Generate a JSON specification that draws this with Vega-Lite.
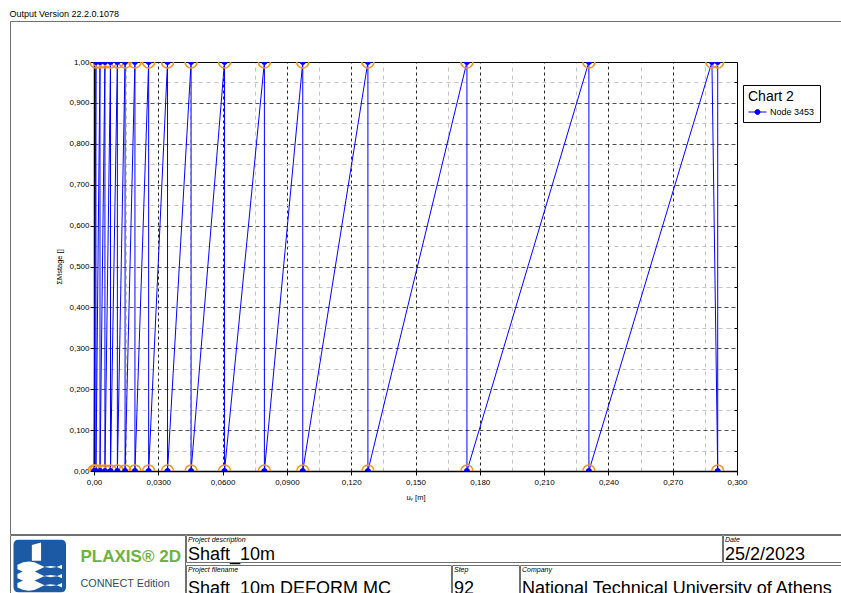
{
  "$schema": "https://vega.github.io/schema/vega-lite/v6.json",
  "padding": {"left": 9, "top": 9, "right": 0, "bottom": 0},
  "background": "white",
  "title": {"text": "Output Version 22.2.0.1078", "anchor": "start", "fontSize": 9, "font": "Liberation Sans", "fontWeight": "normal", "color": "#000", "offset": 2},
  "config": {"view": {"stroke": null}, "font": "Liberation Sans"},
  "spacing": -6,
  "vconcat": [
    {
      "width": 832,
      "height": 513,
      "view": {"stroke": "#707070", "strokeWidth": 1},
      "data": {"values": [
        {"i":0,"u":0,"m":0},{"i":1,"u":0.0009,"m":1},{"i":2,"u":0.0009,"m":0},{"i":3,"u":0.0028,"m":1},{"i":4,"u":0.0028,"m":0},{"i":5,"u":0.0051,"m":1},{"i":6,"u":0.0051,"m":0},{"i":7,"u":0.0077,"m":1},{"i":8,"u":0.0077,"m":0},{"i":9,"u":0.0109,"m":1},{"i":10,"u":0.0109,"m":0},{"i":11,"u":0.0145,"m":1},{"i":12,"u":0.0145,"m":0},{"i":13,"u":0.0191,"m":1},{"i":14,"u":0.0191,"m":0},{"i":15,"u":0.0255,"m":1},{"i":16,"u":0.0255,"m":0},{"i":17,"u":0.0343,"m":1},{"i":18,"u":0.0343,"m":0},{"i":19,"u":0.0453,"m":1},{"i":20,"u":0.0453,"m":0},{"i":21,"u":0.0609,"m":1},{"i":22,"u":0.0609,"m":0},{"i":23,"u":0.0795,"m":1},{"i":24,"u":0.0795,"m":0},{"i":25,"u":0.0974,"m":1},{"i":26,"u":0.0974,"m":0},{"i":27,"u":0.1278,"m":1},{"i":28,"u":0.1278,"m":0},{"i":29,"u":0.174,"m":1},{"i":30,"u":0.174,"m":0},{"i":31,"u":0.2309,"m":1},{"i":32,"u":0.2309,"m":0},{"i":33,"u":0.2883,"m":1},{"i":34,"u":0.291,"m":0},{"i":35,"u":0.291,"m":1}
      ]},
      "resolve": {"axis": {"x": "independent", "y": "independent"}},
      "layer": [
        {
          "mark": {"type": "line", "strokeWidth": 1},
          "encoding": {
            "x": {"field": "u", "type": "quantitative", "scale": {"domain": [0, 0.3], "range": [84, 727], "nice": false, "zero": false},
              "axis": {"orient": "bottom", "offset": -63, "values": [0, 0.03, 0.06, 0.09, 0.12, 0.15, 0.18, 0.21, 0.24, 0.27, 0.3],
                "grid": false, "domain": true, "domainColor": "#000", "domainWidth": 1.5,
                "ticks": true, "tickSize": 4, "tickColor": "#000",
                "labelExpr": "datum.value == 0 ? '0,00' : replace(format(datum.value, datum.value < 0.1 ? '.4f' : '.3f'), '.', ',')",
                "labelFontSize": 8, "labelFont": "Liberation Sans", "labelColor": "#000", "labelPadding": 3, "labelFlush": false, "labelOverlap": false,
                "title": "uᵧ [m]", "titleFontSize": 7.5, "titleFont": "Liberation Sans", "titleFontWeight": "normal", "titleColor": "#000", "titlePadding": 7}},
            "y": {"field": "m", "type": "quantitative", "scale": {"domain": [0, 1], "range": [450, 41], "nice": false, "zero": false},
              "axis": {"orient": "left", "offset": -84, "values": [0, 0.1, 0.2, 0.3, 0.4, 0.5, 0.6, 0.7, 0.8, 0.9, 1],
                "grid": true, "gridColor": "#333", "gridDash": [4, 3], "gridWidth": 1, "gridOpacity": 0.85,
                "domain": true, "domainColor": "#000", "domainWidth": 1.5,
                "ticks": true, "tickSize": 4, "tickColor": "#000",
                "labelExpr": "datum.value == 0 ? '0,00' : datum.value == 1 ? '1,00' : replace(format(datum.value, '.3f'), '.', ',')",
                "labelFontSize": 8, "labelFont": "Liberation Sans", "labelColor": "#000", "labelPadding": 1, "labelFlush": false, "labelOverlap": false,
                "title": "ΣMstage []", "titleFontSize": 7.5, "titleFont": "Liberation Sans", "titleFontWeight": "normal", "titleColor": "#000", "titlePadding": 5}},
            "order": {"field": "i"},
            "color": {"datum": "Node 3453", "type": "nominal", "scale": {"range": ["#0000ff"]},
              "legend": {"orient": "none", "legendX": 733, "legendY": 64, "title": "Chart 2",
                "titleFontSize": 14, "titleFont": "Liberation Sans", "titleFontWeight": "normal", "titleColor": "#000", "titlePadding": 3,
                "labelFontSize": 9, "labelFont": "Liberation Sans", "labelColor": "#000", "labelOffset": 12,
                "strokeColor": "#000", "fillColor": "#fff", "padding": 5,
                "symbolType": "M-1,0L3,0M0.45,0A0.55,0.55 0 1,1 1.55,0A0.55,0.55 0 1,1 0.45,0Z",
                "symbolSize": 81, "symbolStrokeWidth": 1, "symbolFillColor": "#0000ff", "symbolStrokeColor": "#0000ff"}}
          }
        },
        {
          "mark": {"type": "point", "filled": false, "stroke": "#f7941d", "strokeWidth": 1.6, "size": 144, "opacity": 1},
          "encoding": {
            "x": {"field": "u", "type": "quantitative",
              "axis": {"orient": "top", "offset": -41, "values": [0, 0.03, 0.06, 0.09, 0.12, 0.15, 0.18, 0.21, 0.24, 0.27, 0.3],
                "grid": true, "gridColor": "#000", "gridDash": [3, 3], "gridWidth": 1, "gridOpacity": 0.85,
                "domain": true, "domainColor": "#000", "domainWidth": 1, "ticks": false, "labels": false, "title": null}},
            "y": {"field": "m", "type": "quantitative",
              "axis": {"orient": "right", "offset": -105, "values": [0.05, 0.15, 0.25, 0.35, 0.45, 0.55, 0.65, 0.75, 0.85, 0.95],
                "grid": false, "domain": true, "domainColor": "#000", "domainWidth": 1,
                "ticks": true, "tickSize": -3, "tickColor": "#000", "labels": false, "title": null}},
            "shape": {"field": "m", "type": "nominal", "scale": {"domain": [0, 1], "range": ["M-1,0A1,1 0 0,1 1,0", "M-1,0A1,1 0 0,0 1,0"]}, "legend": null}
          }
        },
        {
          "mark": {"type": "point", "filled": true, "color": "#0000ff", "size": 36, "opacity": 1},
          "encoding": {
            "x": {"field": "u", "type": "quantitative",
              "axis": {"orient": "top", "offset": -41, "values": [0.015, 0.045, 0.075, 0.105, 0.135, 0.165, 0.195, 0.225, 0.255, 0.285],
                "grid": true, "gridColor": "#c4c4c4", "gridDash": [4, 4], "gridWidth": 1,
                "domain": false, "ticks": false, "labels": false, "title": null}},
            "y": {"field": "m", "type": "quantitative",
              "axis": {"orient": "left", "offset": -84, "values": [0.05, 0.15, 0.25, 0.35, 0.45, 0.55, 0.65, 0.75, 0.85, 0.95],
                "grid": true, "gridColor": "#c4c4c4", "gridDash": [4, 4], "gridWidth": 1,
                "domain": false, "ticks": false, "labels": false, "title": null}},
            "shape": {"field": "m", "type": "nominal", "scale": {"domain": [0, 1], "range": ["M-1,0A1,1 0 0,1 1,0Z", "M-1,0A1,1 0 0,0 1,0Z"]}, "legend": null}
          }
        }
      ]
    },
    {
      "spacing": -3,
      "hconcat": [
        {
          "width": 175,
          "height": 66,
          "view": {"stroke": "#707070", "strokeWidth": 1},
          "data": {"values": [{"brand": "PLAXIS® 2D", "edition": "CONNECT Edition"}]},
          "resolve": {"scale": {"x": "independent", "y": "independent"}},
          "layer": [
            {
              "mark": {"type": "point", "shape": "M-1,-0.8Q-1,-1 -0.8,-1L0.8,-1Q1,-1 1,-0.8L1,0.8Q1,1 0.8,1L-0.8,1Q-1,1 -1,0.8Z", "filled": true, "color": "#1d5aa6", "size": 2756, "opacity": 1},
              "encoding": {
                "x": {"datum": "p", "type": "nominal", "scale": {"type": "point", "domain": ["p"], "align": 0.17}, "axis": null},
                "y": {"datum": "p", "type": "nominal", "scale": {"type": "point", "domain": ["p"], "align": 0.47}, "axis": null}
              }
            },
            {
              "mark": {"type": "point", "shape": "M-0.3,-0.8L0.05,-0.9L0.05,-0.2L-0.3,-0.2ZM-0.85,-0.05Q-0.4,-0.3 0,-0.05T0.85,-0.05L0.85,0.12Q0.4,-0.13 0,0.12T-0.85,0.12ZM-0.85,0.3Q-0.4,0.05 0,0.3T0.85,0.3L0.85,0.47Q0.4,0.22 0,0.47T-0.85,0.47ZM-0.85,0.65Q-0.4,0.4 0,0.65T0.85,0.65L0.85,0.82Q0.4,0.57 0,0.82T-0.85,0.82Z", "filled": true, "color": "#ffffff", "size": 2756, "opacity": 1},
              "encoding": {
                "x": {"datum": "p", "type": "nominal", "scale": {"type": "point", "domain": ["p"], "align": 0.17}, "axis": null},
                "y": {"datum": "p", "type": "nominal", "scale": {"type": "point", "domain": ["p"], "align": 0.47}, "axis": null}
              }
            },
            {
              "mark": {"type": "text", "align": "left", "baseline": "alphabetic", "fontSize": 17, "fontWeight": "bold", "font": "Liberation Sans", "color": "#6cb33e"},
              "encoding": {
                "text": {"field": "brand"},
                "x": {"datum": "p", "type": "nominal", "scale": {"type": "point", "domain": ["p"], "align": 0.403}, "axis": null},
                "y": {"datum": "p", "type": "nominal", "scale": {"type": "point", "domain": ["p"], "align": 0.41}, "axis": null}
              }
            },
            {
              "mark": {"type": "text", "align": "left", "baseline": "alphabetic", "fontSize": 10.8, "font": "Liberation Sans", "color": "#1f4e79"},
              "encoding": {
                "text": {"field": "edition"},
                "x": {"datum": "p", "type": "nominal", "scale": {"type": "point", "domain": ["p"], "align": 0.403}, "axis": null},
                "y": {"datum": "p", "type": "nominal", "scale": {"type": "point", "domain": ["p"], "align": 0.79}, "axis": null}
              }
            }
          ]
        },
        {
          "spacing": -6,
          "vconcat": [
            {
              "spacing": -3,
              "hconcat": [
                {
                  "width": 536, "height": 27, "view": {"stroke": "#707070", "strokeWidth": 1},
                  "data": {"values": [{"label": "Project description", "value": "Shaft_10m"}]},
                  "layer": [
                    {"mark": {"type": "text", "align": "left", "baseline": "top", "fontSize": 7, "fontStyle": "italic", "dx": 2, "dy": 1, "color": "#000"},
                     "encoding": {"text": {"field": "label"},
                       "x": {"datum": "start", "type": "nominal", "scale": {"type": "point", "domain": ["start"], "align": 0}, "axis": null},
                       "y": {"datum": "top", "type": "nominal", "scale": {"type": "point", "domain": ["top", "bottom"], "padding": 0}, "axis": null}}},
                    {"mark": {"type": "text", "align": "left", "baseline": "alphabetic", "fontSize": 18, "dx": 2, "dy": -2, "color": "#000"},
                     "encoding": {"text": {"field": "value"},
                       "x": {"datum": "start", "type": "nominal", "scale": {"type": "point", "domain": ["start"], "align": 0}, "axis": null},
                       "y": {"datum": "bottom", "type": "nominal", "scale": {"type": "point", "domain": ["top", "bottom"], "padding": 0}, "axis": null}}}
                  ]
                },
                {
                  "width": 130, "height": 27, "view": {"stroke": "#707070", "strokeWidth": 1},
                  "data": {"values": [{"label": "Date", "value": "25/2/2023"}]},
                  "layer": [
                    {"mark": {"type": "text", "align": "left", "baseline": "top", "fontSize": 7, "fontStyle": "italic", "dx": 2, "dy": 1, "color": "#000"},
                     "encoding": {"text": {"field": "label"},
                       "x": {"datum": "start", "type": "nominal", "scale": {"type": "point", "domain": ["start"], "align": 0}, "axis": null},
                       "y": {"datum": "top", "type": "nominal", "scale": {"type": "point", "domain": ["top", "bottom"], "padding": 0}, "axis": null}}},
                    {"mark": {"type": "text", "align": "left", "baseline": "alphabetic", "fontSize": 18, "dx": 2, "dy": -2, "color": "#000"},
                     "encoding": {"text": {"field": "value"},
                       "x": {"datum": "start", "type": "nominal", "scale": {"type": "point", "domain": ["start"], "align": 0}, "axis": null},
                       "y": {"datum": "bottom", "type": "nominal", "scale": {"type": "point", "domain": ["top", "bottom"], "padding": 0}, "axis": null}}}
                  ]
                }
              ]
            },
            {
              "spacing": -3,
              "hconcat": [
                {
                  "width": 265, "height": 36, "view": {"stroke": "#707070", "strokeWidth": 1},
                  "data": {"values": [{"label": "Project filename", "value": "Shaft_10m DEFORM MC"}]},
                  "layer": [
                    {"mark": {"type": "text", "align": "left", "baseline": "top", "fontSize": 7, "fontStyle": "italic", "dx": 2, "dy": 1, "color": "#000"},
                     "encoding": {"text": {"field": "label"},
                       "x": {"datum": "start", "type": "nominal", "scale": {"type": "point", "domain": ["start"], "align": 0}, "axis": null},
                       "y": {"datum": "top", "type": "nominal", "scale": {"type": "point", "domain": ["top", "bottom"], "padding": 0}, "axis": null}}},
                    {"mark": {"type": "text", "align": "left", "baseline": "alphabetic", "fontSize": 18, "dx": 2, "dy": -7, "color": "#000"},
                     "encoding": {"text": {"field": "value"},
                       "x": {"datum": "start", "type": "nominal", "scale": {"type": "point", "domain": ["start"], "align": 0}, "axis": null},
                       "y": {"datum": "bottom", "type": "nominal", "scale": {"type": "point", "domain": ["top", "bottom"], "padding": 0}, "axis": null}}}
                  ]
                },
                {
                  "width": 67, "height": 36, "view": {"stroke": "#707070", "strokeWidth": 1},
                  "data": {"values": [{"label": "Step", "value": "92"}]},
                  "layer": [
                    {"mark": {"type": "text", "align": "left", "baseline": "top", "fontSize": 7, "fontStyle": "italic", "dx": 2, "dy": 1, "color": "#000"},
                     "encoding": {"text": {"field": "label"},
                       "x": {"datum": "start", "type": "nominal", "scale": {"type": "point", "domain": ["start"], "align": 0}, "axis": null},
                       "y": {"datum": "top", "type": "nominal", "scale": {"type": "point", "domain": ["top", "bottom"], "padding": 0}, "axis": null}}},
                    {"mark": {"type": "text", "align": "left", "baseline": "alphabetic", "fontSize": 18, "dx": 2, "dy": -7, "color": "#000"},
                     "encoding": {"text": {"field": "value"},
                       "x": {"datum": "start", "type": "nominal", "scale": {"type": "point", "domain": ["start"], "align": 0}, "axis": null},
                       "y": {"datum": "bottom", "type": "nominal", "scale": {"type": "point", "domain": ["top", "bottom"], "padding": 0}, "axis": null}}}
                  ]
                },
                {
                  "width": 340, "height": 36, "view": {"stroke": "#707070", "strokeWidth": 1},
                  "data": {"values": [{"label": "Company", "value": "National Technical University of Athens"}]},
                  "layer": [
                    {"mark": {"type": "text", "align": "left", "baseline": "top", "fontSize": 7, "fontStyle": "italic", "dx": 2, "dy": 1, "color": "#000"},
                     "encoding": {"text": {"field": "label"},
                       "x": {"datum": "start", "type": "nominal", "scale": {"type": "point", "domain": ["start"], "align": 0}, "axis": null},
                       "y": {"datum": "top", "type": "nominal", "scale": {"type": "point", "domain": ["top", "bottom"], "padding": 0}, "axis": null}}},
                    {"mark": {"type": "text", "align": "left", "baseline": "alphabetic", "fontSize": 18, "dx": 2, "dy": -7, "color": "#000"},
                     "encoding": {"text": {"field": "value"},
                       "x": {"datum": "start", "type": "nominal", "scale": {"type": "point", "domain": ["start"], "align": 0}, "axis": null},
                       "y": {"datum": "bottom", "type": "nominal", "scale": {"type": "point", "domain": ["top", "bottom"], "padding": 0}, "axis": null}}}
                  ]
                }
              ]
            }
          ]
        }
      ]
    }
  ]
}
